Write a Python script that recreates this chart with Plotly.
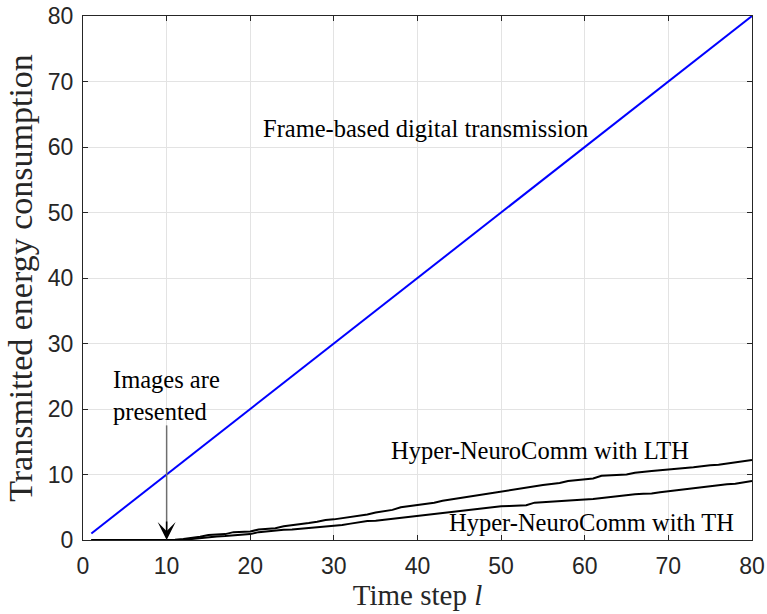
import plotly.graph_objects as go

steps = list(range(1, 81))
frame_based = [float(v) for v in range(1, 81)]
lth = [0]*10 + [0.05, 0.15, 0.3, 0.5, 0.75, 0.8, 0.9, 1.2, 1.25, 1.3,
                1.6, 1.75, 1.8, 2.1, 2.25, 2.35, 2.6, 2.8, 3.05, 3.15,
                3.35, 3.45, 3.75, 3.9, 4.2, 4.45, 4.6, 5.0, 5.15, 5.35,
                5.5, 5.7, 6.0, 6.2, 6.4, 6.65, 6.8, 7.05, 7.25, 7.5,
                7.7, 7.85, 8.05, 8.2, 8.4, 8.55, 8.7, 9.0, 9.1, 9.25,
                9.4, 9.8, 9.85, 9.85, 10.0, 10.25, 10.45, 10.55, 10.65, 10.8,
                10.9, 11.0, 11.1, 11.3, 11.4, 11.5, 11.7, 11.85, 12.0, 12.2]
th = [0]*10 + [0.0, 0.05, 0.15, 0.3, 0.45, 0.55, 0.6, 0.7, 0.8, 0.9,
               1.2, 1.35, 1.45, 1.55, 1.6, 1.7, 1.8, 2.0, 2.1, 2.15,
               2.3, 2.5, 2.7, 2.9, 2.95, 3.1, 3.25, 3.4, 3.55, 3.65,
               3.85, 4.0, 4.1, 4.25, 4.4, 4.65, 4.8, 4.95, 5.05, 5.15,
               5.2, 5.25, 5.3, 5.7, 5.8, 5.9, 6.0, 6.05, 6.1, 6.2,
               6.25, 6.4, 6.6, 6.75, 6.85, 7.0, 7.05, 7.1, 7.3, 7.5,
               7.6, 7.75, 7.9, 8.1, 8.3, 8.45, 8.5, 8.6, 8.85, 9.0]
tick_vals = [0, 10, 20, 30, 40, 50, 60, 70, 80]

serif = "Liberation Serif, Times New Roman, serif"
sans = "Liberation Sans, Arial, sans-serif"
axis_col = "#262626"

fig = go.Figure()
fig.add_trace(go.Scatter(x=steps, y=frame_based, mode="lines",
                         line=dict(color="#0000ff", width=2), name="Frame-based"))
fig.add_trace(go.Scatter(x=steps, y=lth, mode="lines",
                         line=dict(color="black", width=2), name="LTH"))
fig.add_trace(go.Scatter(x=steps, y=th, mode="lines",
                         line=dict(color="black", width=2), name="TH"))

# arrow shaft (gray) + black head
fig.add_shape(type="line", x0=10, x1=10, y0=17.5, y1=0.5, xref="x", yref="y",
              line=dict(color="#6e6e6e", width=1.5))
fig.add_annotation(x=10, y=0.0, xref="x", yref="y", ax=0, ay=-20,
                   showarrow=True, arrowhead=3, arrowsize=2, arrowwidth=1.5,
                   arrowcolor="black", text="")

ann_font = dict(family=serif, size=24.5, color="black")
fig.add_annotation(x=40.9, y=62.8, text="Frame-based digital transmission",
                   showarrow=False, font=ann_font)
fig.add_annotation(x=10, y=22.1, text="Images are<br>presented",
                   showarrow=False, font=ann_font, align="left")
fig.add_annotation(x=54.6, y=13.7, text="Hyper-NeuroComm with LTH",
                   showarrow=False, font=ann_font)
fig.add_annotation(x=60.75, y=2.6, text="Hyper-NeuroComm with TH",
                   showarrow=False, font=ann_font)

axis_common = dict(
    range=[0, 80], tickvals=tick_vals, showgrid=True, gridcolor="#e3e3e3",
    gridwidth=1, showline=True, linecolor=axis_col, linewidth=1, mirror="ticks",
    ticks="inside", ticklen=5, tickcolor=axis_col, zeroline=False,
    tickfont=dict(family=sans, size=23, color=axis_col), automargin=False,
    ticklabeloverflow="allow",
)
fig.update_xaxes(**axis_common, ticklabelstandoff=5,
                 title=dict(text="Time step <i>l</i>", font=dict(family=serif, size=29, color=axis_col), standoff=4))
fig.update_yaxes(**axis_common, ticklabelstandoff=4,
                 title=dict(text="Transmitted energy consumption", font=dict(family=serif, size=34, color=axis_col), standoff=4))

fig.update_layout(width=767, height=614, showlegend=False,
                  margin=dict(l=83, r=15, t=16, b=74),
                  plot_bgcolor="white", paper_bgcolor="white")
fig.write_html("out.html", config={"displayModeBar": False},
               post_script="document.body.style.margin='0';")
